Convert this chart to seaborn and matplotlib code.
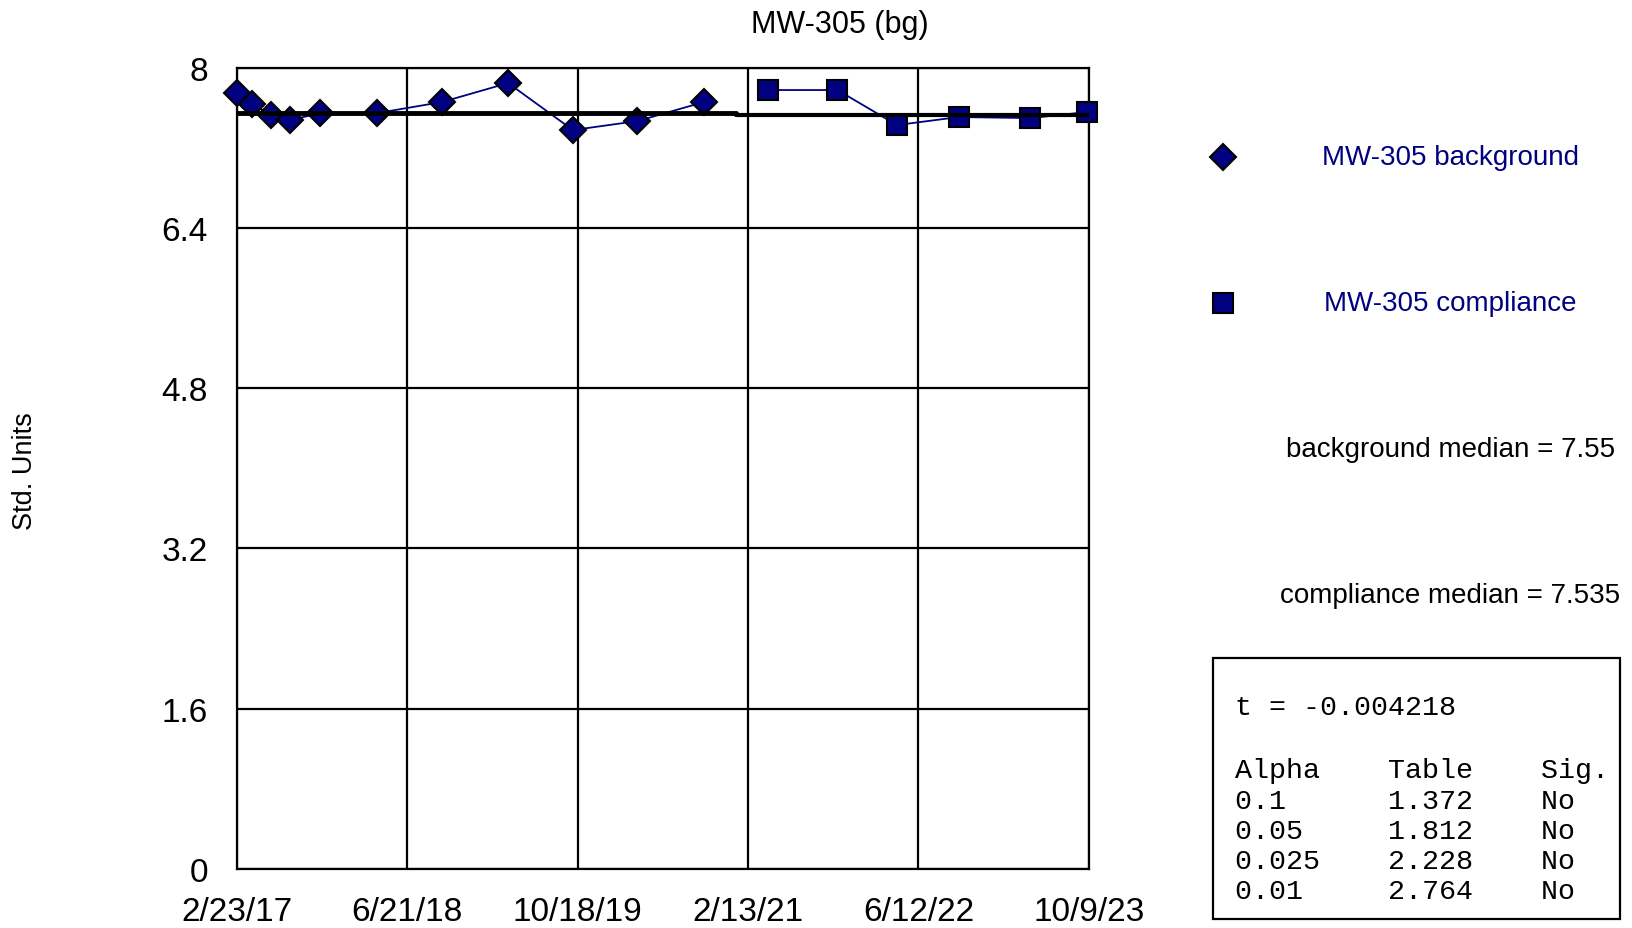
import numpy as np
import pandas as pd
import matplotlib
matplotlib.use('Agg')
import matplotlib.pyplot as plt
import matplotlib.dates as mdates
import seaborn as sns
from matplotlib.lines import Line2D
from matplotlib.patches import Rectangle

# dados
bg_dates = ['2017-02-22', '2017-04-07', '2017-05-31', '2017-07-25', '2017-10-18',
            '2018-03-29', '2018-09-28', '2019-04-04', '2019-10-05', '2020-04-05',
            '2020-10-11']
bg_values = [7.75, 7.64, 7.53, 7.48, 7.55, 7.55, 7.66, 7.85, 7.38, 7.47, 7.66]

comp_dates = ['2021-04-12', '2021-10-25', '2022-04-12', '2022-10-04', '2023-04-26',
              '2023-10-04']
comp_values = [7.78, 7.78, 7.43, 7.51, 7.50, 7.56]

x_start, x_end = '2017-02-23', '2023-10-09'
x_labels = ['2/23/17', '6/21/18', '10/18/19', '2/13/21', '6/12/22', '10/9/23']
y_ticks = [0, 1.6, 3.2, 4.8, 6.4, 8]

t_value = '-0.004218'
alphas = ['0.1', '0.05', '0.025', '0.01']
table_vals = ['1.372', '1.812', '2.228', '2.764']
sig = ['No', 'No', 'No', 'No']

navy = '#000080'

sns.set_theme(style='white')
plt.rcParams['font.family'] = ['Liberation Sans', 'DejaVu Sans']
plt.rcParams['text.color'] = 'black'

fig = plt.figure(figsize=(16.33, 9.29), dpi=100)
ax = fig.add_axes([0.1451, 0.0639, 0.5217, 0.8618])

bg = pd.DataFrame({'date': pd.to_datetime(bg_dates), 'value': bg_values})
comp = pd.DataFrame({'date': pd.to_datetime(comp_dates), 'value': comp_values})

sns.lineplot(data=bg, x='date', y='value', ax=ax, color=navy, lw=1.3,
             marker='D', markersize=13, markerfacecolor=navy,
             markeredgecolor='black', markeredgewidth=1.5, clip_on=False, zorder=4)
sns.lineplot(data=comp, x='date', y='value', ax=ax, color=navy, lw=1.3,
             marker='s', markersize=15, markerfacecolor=navy,
             markeredgecolor='black', markeredgewidth=1.5, clip_on=False, zorder=4)

# linhas de mediana
x0 = mdates.date2num(pd.Timestamp(x_start))
x1 = mdates.date2num(pd.Timestamp(x_end))
split = (mdates.date2num(bg['date'].iloc[-1]) + mdates.date2num(comp['date'].iloc[0])) / 2
bg_med = np.median(bg_values)
comp_med = np.median(comp_values)
ax.plot([x0, split], [bg_med, bg_med], color='black', lw=3.5, zorder=5)
ax.plot([split, x1], [comp_med, comp_med], color='black', lw=3.0, zorder=5)

ax.set_xlim(x0, x1)
ax.set_ylim(0, 8)
ax.set_xticks(np.linspace(x0, x1, len(x_labels)))
ax.set_xticklabels(x_labels)
ax.set_yticks(y_ticks)
ax.set_yticklabels([f'{v:g}' for v in y_ticks])
ax.set_xlabel('')
ax.set_ylabel('')
ax.grid(True, color='black', lw=1.6)
for s in ax.spines.values():
    s.set_color('black')
    s.set_linewidth(1.6)
ax.tick_params(axis='both', direction='out', length=7, width=1.6,
               labelsize=24, colors='black')
ax.tick_params(axis='y', pad=14)
ax.tick_params(axis='x', pad=13)

fig.text(0.5144, 0.973, 'MW-305 (bg)', fontsize=22, ha='center', va='center')
fig.text(0.0153, 0.493, 'Std. Units', fontsize=19.5, rotation=90,
         ha='center', va='center')

# legenda manual
fig.add_artist(Line2D([0.749], [0.830], transform=fig.transFigure, marker='D',
                      markersize=13, markerfacecolor=navy, markeredgecolor='black',
                      markeredgewidth=1.5, ls='none'))
fig.add_artist(Line2D([0.749], [0.673], transform=fig.transFigure, marker='s',
                      markersize=15, markerfacecolor=navy, markeredgecolor='black',
                      markeredgewidth=1.5, ls='none'))
fig.text(0.888, 0.830, 'MW-305 background', color=navy, fontsize=20,
         ha='center', va='center')
fig.text(0.888, 0.673, 'MW-305 compliance', color=navy, fontsize=20,
         ha='center', va='center')
fig.text(0.888, 0.5156, f'background median = {bg_med:g}', fontsize=20,
         ha='center', va='center')
fig.text(0.888, 0.3585, f'compliance median = {comp_med:g}', fontsize=20,
         ha='center', va='center')

# caixa do teste t
fig.add_artist(Rectangle((0.7428, 0.0097), 0.2492, 0.281, transform=fig.transFigure,
                         fill=False, edgecolor='black', lw=1.6))
mono = ['Liberation Mono', 'DejaVu Sans Mono']
tx = 1235 / 1633
fig.text(tx, 1 - 715 / 929, f't = {t_value}', family=mono, fontsize=20.4,
         va='baseline')
rows = ['Alpha    Table    Sig.'] + [f'{a:<9}{t:<9}{s}' for a, t, s in zip(alphas, table_vals, sig)]
for i, r in enumerate(rows):
    fig.text(tx, 1 - (778.3 + 30.25 * i) / 929, r, family=mono, fontsize=20.4,
             va='baseline')

fig.savefig('out.png', dpi=100)
